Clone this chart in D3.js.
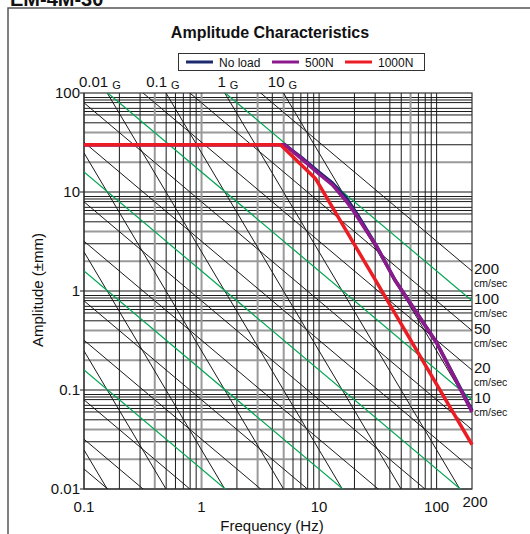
<!DOCTYPE html>
<html>
<head>
<meta charset="utf-8">
<script src="https://cdn.jsdelivr.net/npm/d3@7"></script>
<style>
  body { margin: 0; background: #fff; }
  text { font-family: "Liberation Sans", Arial, sans-serif; fill: #111; }
</style>
</head>
<body>
<script>
const width = 530, height = 534;

// axes
const xTickLabels = [0.1, 1, 10, 100];
const xEndLabel = 200;
const yTickLabels = [0.01, 0.1, 1, 10, 100];
const xMinorSteps = [2, 3, 4, 5, 6, 7, 8, 9];
const yMinorSteps = [2, 3, 4, 5, 6, 6.5, 7, 8, 8.5, 9];
const xGreyLines = [0.4, 1, 3, 5, 60];
const yGreySteps = [2, 4];

// nomograph lines: velocity (cm/sec) and acceleration (G)
const velocityLines = [0.001, 0.002, 0.005, 0.01, 0.02, 0.05, 0.1, 0.2, 0.5, 1, 2, 5, 10, 20, 50, 100, 200];
const velocityGreen = [0.01, 0.1, 1, 10, 100];
const accelLines = [1e-6, 1e-5, 1e-4, 1e-3, 0.01, 0.1, 1, 10];
const accelLabels = [0.01, 0.1, 1, 10];
const velocityLabels = [200, 100, 50, 20, 10];

// amplitude curves [Hz, ±mm]
const seriesNames = ["No load", "500N", "1000N"];
const noLoad = [[0.1, 30], [5.1, 30], [7, 22.5], [10, 15.8], [13, 12.3], [17, 8.7], [21, 6.0], [31, 2.8], [44, 1.3], [100, 0.3], [200, 0.062]];
const load500 = [[0.1, 30], [5.1, 30], [7, 22], [10, 15.2], [13, 11.8], [17, 8.1], [20, 6.2], [31, 2.8], [44, 1.3], [100, 0.3], [200, 0.06]];
const load1000 = [[0.1, 30], [4.7, 30], [9.3, 13.7], [30, 1.3], [200, 0.028]];
const seriesColors = ["#1c2a6e", "#8c1a8e", "#ec1c24"];

const svg = d3.select("body").append("svg")
  .attr("width", width).attr("height", height);

const x = d3.scaleLog().domain([0.1, 200]).range([84, 472]);
const y = d3.scaleLog().domain([0.01, 100]).range([489, 93]);

function main() {
  drawFrame();
  drawGrid();
  drawNomoLines();
  drawCurves();
  drawLabels();
  drawLegend();
}

function drawFrame() {
  svg.append("text").attr("x", 10).attr("y", 6)
    .style("font-size", "20px").style("font-weight", "bold")
    .text("EM-4M-30");
  svg.append("path").attr("d", `M8,${height} V8 H${width}`)
    .attr("fill", "none").attr("stroke", "#555").attr("stroke-width", 1.5);
  svg.append("text").attr("x", 270).attr("y", 38)
    .attr("text-anchor", "middle")
    .style("font-size", "16px").style("font-weight", "bold")
    .text("Amplitude Characteristics");
}

function drawGrid() {
  const g = svg.append("g");
  let xs = [];
  for (let d = 0.1; d < 200; d *= 10) {
    xs.push(d);
    xMinorSteps.forEach(s => { if (d * s < 200) xs.push(d * s); });
  }
  let ys = [];
  for (let d = 0.01; d < 100; d *= 10) {
    ys.push({v: d, grey: false});
    yMinorSteps.forEach(s => ys.push({v: d * s, grey: yGreySteps.includes(s)}));
  }
  const isGreyX = v => xGreyLines.some(q => Math.abs(Math.log10(q / v)) < 0.01);

  g.selectAll("line.gy").data(ys).enter().append("line")
    .attr("x1", x(0.1)).attr("x2", x(200))
    .attr("y1", d => y(d.v)).attr("y2", d => y(d.v))
    .attr("stroke", d => d.grey ? "#9a9a9a" : "#1a1a1a")
    .attr("stroke-width", d => d.grey ? 2 : 1);
  g.selectAll("line.gx").data(xs).enter().append("line")
    .attr("y1", y(0.01)).attr("y2", y(100))
    .attr("x1", d => x(d)).attr("x2", d => x(d))
    .attr("stroke", d => isGreyX(d) ? "#9a9a9a" : "#1a1a1a")
    .attr("stroke-width", d => isGreyX(d) ? 2 : 1);

  // y ticks
  g.selectAll("line.yt").data(yTickLabels).enter().append("line")
    .attr("x1", x(0.1) - 4).attr("x2", x(0.1))
    .attr("y1", d => y(d)).attr("y2", d => y(d))
    .attr("stroke", "#1a1a1a");
  g.append("rect").attr("x", x(0.1)).attr("y", y(100))
    .attr("width", x(200) - x(0.1)).attr("height", y(0.01) - y(100))
    .attr("fill", "none").attr("stroke", "#333").attr("stroke-width", 1.2);
}

const ampVel = (v, f) => v * 10 / (2 * Math.PI * f);
const ampAcc = (a, f) => a * 9806.65 / Math.pow(2 * Math.PI * f, 2);

function drawNomoLines() {
  svg.append("clipPath").attr("id", "plotclip").append("rect")
    .attr("x", x(0.1)).attr("y", y(100))
    .attr("width", x(200) - x(0.1)).attr("height", y(0.01) - y(100));
  const g = svg.append("g").attr("clip-path", "url(#plotclip)");
  const fs = [0.1, 200];
  const line = d3.line().x(d => x(d[0])).y(d => y(d[1]));

  g.selectAll("path.acc").data(accelLines).enter().append("path")
    .attr("d", a => line(fs.map(f => [f, ampAcc(a, f)])))
    .attr("fill", "none").attr("stroke", "#1a1a1a").attr("stroke-width", 1);
  g.selectAll("path.vel").data(velocityLines).enter().append("path")
    .attr("d", v => line(fs.map(f => [f, ampVel(v, f)])))
    .attr("fill", "none")
    .attr("stroke", v => velocityGreen.includes(v) ? "#00a651" : "#1a1a1a")
    .attr("stroke-width", v => velocityGreen.includes(v) ? 1.2 : 1);
}

function drawCurves() {
  const line = d3.line().x(d => x(d[0])).y(d => y(d[1]));
  const g = svg.append("g");
  [noLoad, load500, load1000].forEach((s, i) => {
    g.append("path").attr("d", line(s))
      .attr("fill", "none").attr("stroke", seriesColors[i])
      .attr("stroke-width", 3.5).attr("stroke-linejoin", "round");
  });
}

function drawLabels() {
  const fmt = d => String(d);
  svg.selectAll("text.yl").data(yTickLabels).enter().append("text")
    .attr("x", x(0.1) - 4).attr("y", d => y(d) + 5)
    .attr("text-anchor", "end").style("font-size", "15px").text(fmt);
  svg.selectAll("text.xl").data(xTickLabels).enter().append("text")
    .attr("x", d => x(d)).attr("y", 512)
    .attr("text-anchor", "middle").style("font-size", "15px").text(fmt);
  svg.append("text").attr("x", x(xEndLabel) + 3).attr("y", 507)
    .attr("text-anchor", "middle").style("font-size", "15px").text(fmt(xEndLabel));
  svg.append("text").attr("x", 272).attr("y", 531)
    .attr("text-anchor", "middle").style("font-size", "15px").text("Frequency (Hz)");
  svg.append("text").attr("transform", "translate(43,290) rotate(-90)")
    .attr("text-anchor", "middle").style("font-size", "15px").text("Amplitude (±mm)");

  // acceleration labels along the top edge
  accelLabels.forEach(a => {
    const f = Math.sqrt(a * 9806.65 / 100) / (2 * Math.PI);
    const xp = x(f);
    svg.append("text").attr("x", xp + 1).attr("y", 87)
      .attr("text-anchor", "end").style("font-size", "15px").text(fmt(a));
    svg.append("text").attr("x", xp + 5).attr("y", 89)
      .style("font-size", "11px").text("G");
  });

  // velocity labels on the right edge
  velocityLabels.forEach(v => {
    const yp = y(ampVel(v, 200));
    svg.append("text").attr("x", 474).attr("y", yp + 3)
      .style("font-size", "15px").text(fmt(v));
    svg.append("text").attr("x", 474).attr("y", yp + 16)
      .style("font-size", "10.5px").text("cm/sec");
  });
}

function drawLegend() {
  const g = svg.append("g");
  g.append("rect").attr("x", 178.5).attr("y", 53.5).attr("width", 246).attr("height", 17)
    .attr("fill", "#fff").attr("stroke", "#333");
  const lx = [186, 272, 345];
  seriesNames.forEach((n, i) => {
    g.append("line").attr("x1", lx[i]).attr("x2", lx[i] + 27)
      .attr("y1", 62).attr("y2", 62)
      .attr("stroke", seriesColors[i]).attr("stroke-width", 3);
    g.append("text").attr("x", lx[i] + 33).attr("y", 66.5)
      .style("font-size", "12px").text(n);
  });
}

main()
</script>
</body>
</html>
